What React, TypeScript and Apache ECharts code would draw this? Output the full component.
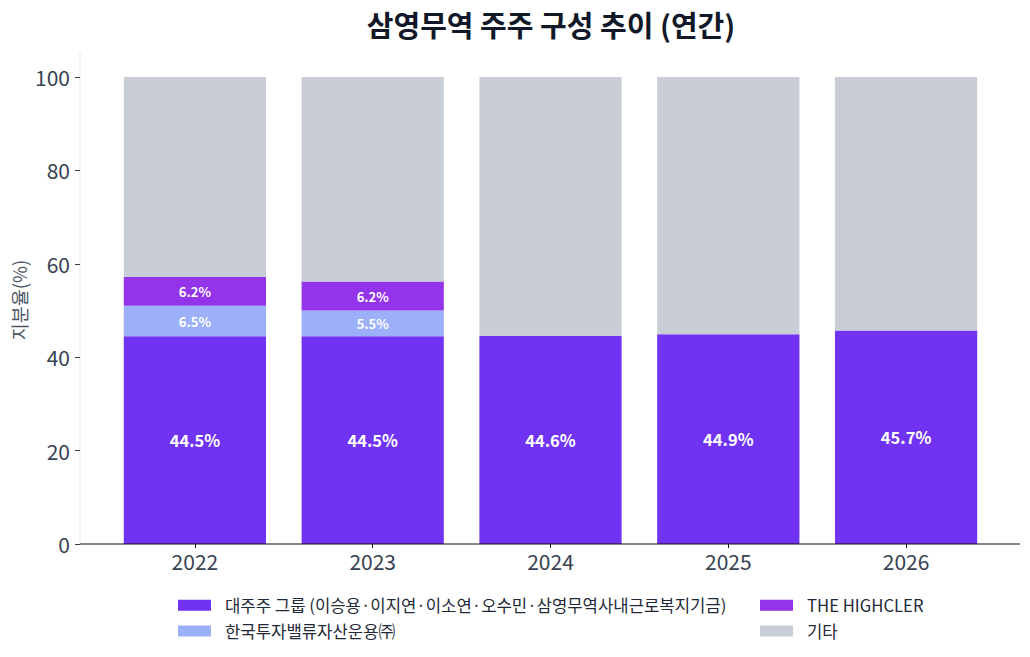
import React, { useEffect, useRef } from "react";
import * as echarts from "echarts";

const years = ["2022", "2023", "2024", "2025", "2026"];
const majorGroup = [44.5, 44.5, 44.6, 44.9, 45.7];
const koreaInvest = [6.5, 5.5, 0, 0, 0];
const highcler = [6.2, 6.2, 0, 0, 0];
const others = [42.8, 43.8, 55.4, 55.1, 54.3];

const seriesNames = [
    "대주주 그룹 (이승용·이지연·이소연·오수민·삼영무역사내근로복지기금)",
    "한국투자밸류자산운용㈜",
    "THE HIGHCLER",
    "기타",
];
const colors = ["#7033f2", "#9bb0f9", "#9333ea", "#c9cdd6"];

const FONT = "'Noto Sans CJK KR', 'Noto Sans', sans-serif";

const App: React.FC = () => {
    const chartRef = useRef<HTMLDivElement>(null);

    useEffect(() => {
        if (!chartRef.current) return;
        const chart = echarts.init(chartRef.current, null, { renderer: "svg" });

        const label = (size: number, show: boolean) => ({
            show,
            position: "inside",
            color: "#ffffff",
            fontSize: size,
            fontWeight: "bold",
            fontFamily: FONT,
            formatter: (p: any) => (p.value > 0 ? `${p.value.toFixed(1)}%` : ""),
        });

        const data = [majorGroup, koreaInvest, highcler, others];
        const series = data.map((d, i) => ({
            name: seriesNames[i],
            type: "bar",
            stack: "total",
            data: d,
            barWidth: "80%",
            itemStyle: { color: colors[i] },
            label: label(i === 0 ? 16.5 : 13, i < 3),
        }));

        const legendBase = {
            orient: "vertical",
            top: 597,
            padding: 0,
            itemWidth: 33,
            itemHeight: 11,
            itemGap: 9,
            icon: "rect",
            textStyle: {
                fontSize: 16.7,
                lineHeight: 16,
                color: "#1f2937",
                fontFamily: FONT,
                padding: [0, 0, 0, 9],
            },
        };

        chart.setOption({
            animation: false,
            textStyle: { fontFamily: FONT },
            grid: { left: 106, right: 35, top: 77, bottom: 113 },
            xAxis: {
                type: "category",
                data: years,
                axisLine: { show: false },
                axisTick: { show: true, alignWithLabel: true, length: 4, lineStyle: { color: "#111827" } },
                axisLabel: { fontSize: 21, color: "#374151", margin: 6, fontFamily: FONT },
            },
            yAxis: {
                type: "value",
                min: 0,
                max: 100,
                interval: 20,
                offset: 26,
                axisLine: { show: false },
                axisTick: { show: true, length: 5, lineStyle: { color: "#374151" } },
                axisLabel: { fontSize: 21, color: "#374151", margin: 10, fontFamily: FONT },
                splitLine: { show: false },
            },
            legend: [
                { ...legendBase, data: [seriesNames[0], seriesNames[1]], left: 178 },
                { ...legendBase, data: [seriesNames[2], seriesNames[3]], left: 760 },
            ],
            graphic: [
                {
                    type: "text",
                    x: 551,
                    y: 24,
                    style: {
                        text: "삼영무역 주주 구성 추이 (연간)",
                        textAlign: "center",
                        textVerticalAlign: "middle",
                        fontSize: 29,
                        fontWeight: "bold",
                        fontFamily: FONT,
                        fill: "#111827",
                    },
                },
                {
                    type: "text",
                    x: 19,
                    y: 300,
                    rotation: Math.PI / 2,
                    style: {
                        text: "지분율(%)",
                        textAlign: "center",
                        textVerticalAlign: "middle",
                        fontSize: 18.5,
                        fontFamily: FONT,
                        fill: "#4b5563",
                    },
                },
                {
                    type: "line",
                    shape: { x1: 80, y1: 52, x2: 80, y2: 544 },
                    style: { stroke: "#e5e7eb", lineWidth: 1 },
                    z: 0,
                },
                {
                    type: "line",
                    shape: { x1: 80, y1: 544, x2: 1020, y2: 544 },
                    style: { stroke: "#111111", lineWidth: 1.2 },
                    z: 10,
                },
            ],
            series,
        });

        return () => {
            chart.dispose();
        };
    }, []);

    return (
        <div
            ref={chartRef}
            style={{ position: "fixed", left: 0, top: 0, width: 1030, height: 657, background: "#ffffff" }}
        />
    );
};

export default App;
